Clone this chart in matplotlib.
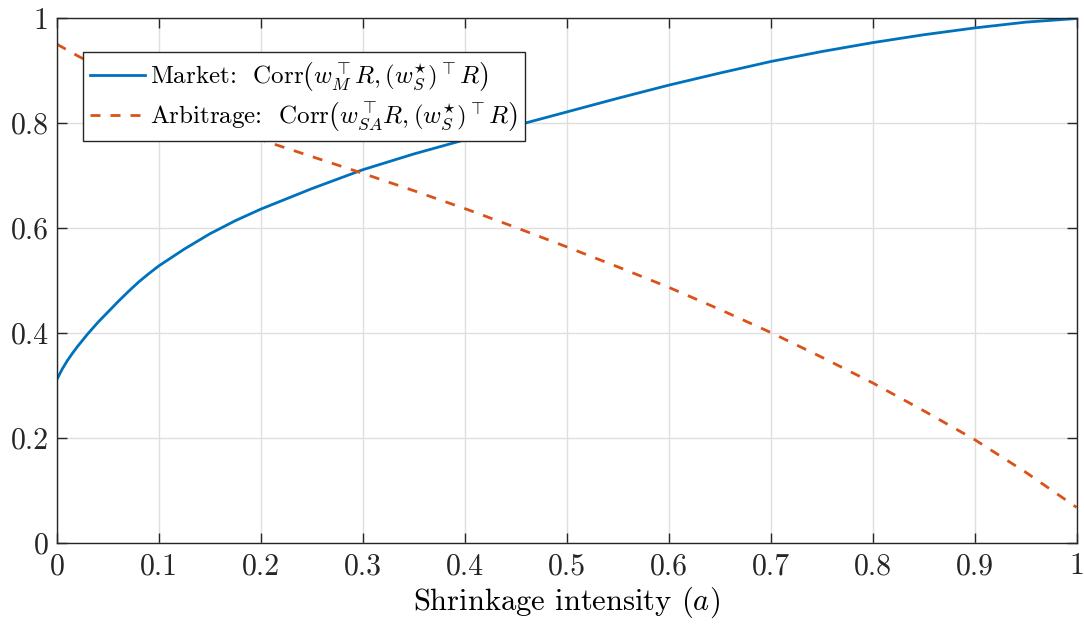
import matplotlib
matplotlib.use("Agg")
import matplotlib.pyplot as plt

plt.rcParams['font.family'] = 'serif'
plt.rcParams['font.serif'] = ['cmr10']
plt.rcParams['mathtext.fontset'] = 'cm'
plt.rcParams['axes.formatter.use_mathtext'] = True

# shrinkage intensity grid
a_market = [0.0, 0.005, 0.01, 0.015, 0.02, 0.03, 0.04, 0.05, 0.06, 0.07, 0.08, 0.09,
            0.1, 0.125, 0.15, 0.175, 0.2, 0.25, 0.3, 0.35, 0.4, 0.45, 0.5, 0.55,
            0.6, 0.65, 0.7, 0.75, 0.8, 0.85, 0.9, 0.95, 1.0]
corr_market = [0.312, 0.331, 0.347, 0.361, 0.374, 0.398, 0.420, 0.440, 0.460, 0.479,
               0.497, 0.513, 0.528, 0.560, 0.589, 0.614, 0.636, 0.675, 0.711, 0.741,
               0.768, 0.795, 0.821, 0.847, 0.872, 0.895, 0.917, 0.936, 0.953, 0.968,
               0.981, 0.992, 0.999]

a_arb = [0.0, 0.02, 0.05, 0.1, 0.15, 0.2, 0.25, 0.3, 0.35, 0.4, 0.45, 0.5, 0.55,
         0.6, 0.65, 0.7, 0.75, 0.8, 0.85, 0.9, 0.95, 1.0]
corr_arb = [0.950, 0.928, 0.898, 0.852, 0.808, 0.768, 0.736, 0.704, 0.671, 0.637,
            0.601, 0.564, 0.526, 0.487, 0.445, 0.401, 0.354, 0.305, 0.252, 0.197,
            0.135, 0.068]

xticks = [0, 0.1, 0.2, 0.3, 0.4, 0.5, 0.6, 0.7, 0.8, 0.9, 1]
xtick_labels = ['0', '0.1', '0.2', '0.3', '0.4', '0.5', '0.6', '0.7', '0.8', '0.9', '1']
yticks = [0, 0.2, 0.4, 0.6, 0.8, 1]
ytick_labels = ['0', '0.2', '0.4', '0.6', '0.8', '1']

label_market = r'Market:  $\mathrm{Corr}\left(w_M^{\top}R, (w_S^{\star})^{\top}R\right)$'
label_arb = r'Arbitrage:  $\mathrm{Corr}\left(w_{SA}^{\top}R, (w_S^{\star})^{\top}R\right)$'

fig = plt.figure(figsize=(10.84, 6.24), dpi=100)
ax = fig.add_axes([0.0526, 0.1298, 0.9405, 0.8414])

ax.plot(a_market, corr_market, color='#0072BD', lw=2, label=label_market)
ax.plot(a_arb, corr_arb, color='#D95319', lw=2, dashes=(3.6, 3.6), label=label_arb)

ax.set_xlim(0, 1)
ax.set_ylim(0, 1)
ax.set_xticks(xticks)
ax.set_xticklabels(xtick_labels)
ax.set_yticks(yticks)
ax.set_yticklabels(ytick_labels)
ax.tick_params(direction='in', length=7, width=1, colors='#262626', labelsize=21.5,
               top=True, right=True, pad=6)
ax.tick_params(axis='x', pad=7)
for sp in ax.spines.values():
    sp.set_color('#262626')
    sp.set_linewidth(1)
ax.grid(True, color='#dfdfdf', lw=1)
ax.set_axisbelow(True)

ax.set_xlabel(r'Shrinkage intensity $(a)$', fontsize=22, labelpad=3)

leg = ax.legend(loc='upper left', bbox_to_anchor=(0.025, 0.935), fontsize=18,
                fancybox=False, framealpha=1, edgecolor='#262626',
                handlelength=2.2, handletextpad=0.2, borderpad=0.3,
                labelspacing=0.3, borderaxespad=0)
leg.get_frame().set_linewidth(1)

fig.savefig('out.png', dpi=100)
